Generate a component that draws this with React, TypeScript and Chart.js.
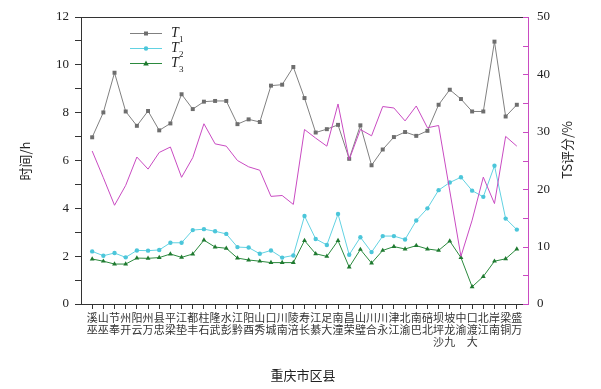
import { useEffect, useRef } from 'react';
import { Chart, registerables } from 'chart.js';
Chart.register(...registerables);

const districts = ['巫溪','巫山','奉节','开州','云阳','万州','忠县','梁平','垫江','丰都','石柱','武隆','彭水','黔江','酉阳','秀山','城口','南川','涪陵','长寿','綦江','大足','潼南','荣昌','璧山','合川','永川','江津','渝北','巴南','北碚','沙坪坝','九龙坡','渝中','大渡口','江北','南岸','铜梁','万盛'];

const t1 = [6.97,8.01,9.67,8.05,7.45,8.07,7.26,7.55,8.77,8.15,8.46,8.49,8.49,7.52,7.72,7.61,9.13,9.17,9.91,8.61,7.17,7.31,7.49,6.07,7.47,5.80,6.46,6.98,7.19,7.03,7.24,8.33,8.96,8.57,8.05,8.05,10.97,7.84,8.33];
const t2 = [2.20,2.02,2.13,1.95,2.24,2.23,2.26,2.56,2.56,3.09,3.13,3.04,2.93,2.38,2.36,2.10,2.24,1.94,2.03,3.68,2.72,2.47,3.76,2.06,2.79,2.17,2.84,2.84,2.70,3.49,4.00,4.76,5.08,5.30,4.74,4.48,5.78,3.57,3.11];
const t3 = [1.88,1.79,1.67,1.67,1.92,1.91,1.94,2.09,1.95,2.09,2.67,2.38,2.33,1.92,1.84,1.79,1.73,1.73,1.73,2.65,2.10,1.99,2.65,1.54,2.28,1.71,2.24,2.40,2.30,2.44,2.30,2.24,2.63,1.94,0.72,1.15,1.79,1.89,2.30];
const ts = [26.65,22.0,17.2,20.67,25.6,23.5,26.4,27.35,22.07,25.5,31.4,27.9,27.5,25.0,23.9,23.3,18.75,18.9,17.35,30.4,28.9,27.5,34.85,25.15,30.4,29.3,34.4,34.15,31.9,34.5,30.7,31.1,19.7,8.3,14.6,22.1,17.5,29.2,27.5];

const leftTicks = [0,2,4,6,8,10,12];
const rightTicks = [0,10,20,30,40,50];
const legendNames = ['1','2','3'];

const GRAY = '#808080';
const CYAN = '#62d2e2';
const GREEN = '#2b8a3e';
const MAGENTA = '#c94bc2';
const AXIS = '#333333';
const SERIF = '"Liberation Serif", "DejaVu Serif", serif';
const CJK = '"Noto Sans CJK SC", sans-serif';

const pad = (arr: number[]) => [null, ...arr, null];
const labels = ['', ...districts.map((d) => d.split('').reverse()), ''];

function drawMarker(ctx: CanvasRenderingContext2D, kind: string, x: number, y: number, color: string) {
  ctx.fillStyle = color;
  ctx.beginPath();
  if (kind === 'rect') {
    ctx.rect(x - 2, y - 2, 4, 4);
  } else if (kind === 'circle') {
    ctx.arc(x, y, 2.2, 0, Math.PI * 2);
  } else {
    ctx.moveTo(x, y - 3);
    ctx.lineTo(x + 2.8, y + 2);
    ctx.lineTo(x - 2.8, y + 2);
    ctx.closePath();
  }
  ctx.fill();
}

const decor = {
  id: 'decor',
  afterDraw(chart: any) {
    const { ctx, chartArea: a, scales } = chart;
    ctx.save();
    ctx.lineWidth = 1;
    // top frame
    ctx.strokeStyle = AXIS;
    ctx.beginPath();
    ctx.moveTo(a.left, Math.round(a.top) + 0.5);
    ctx.lineTo(a.right, Math.round(a.top) + 0.5);
    ctx.stroke();
    // right inward ticks
    const y1 = scales.y1;
    ctx.strokeStyle = MAGENTA;
    for (let v = 0; v <= 50; v += 5) {
      const y = Math.round(y1.getPixelForValue(v)) + 0.5;
      ctx.beginPath();
      ctx.moveTo(a.right - 5, y);
      ctx.lineTo(a.right, y);
      ctx.stroke();
    }
    // legend
    const items = [
      { c: GRAY, m: 'rect', mc: '#6e6e6e' },
      { c: CYAN, m: 'circle', mc: '#4cc6da' },
      { c: GREEN, m: 'triangle', mc: '#1f7a30' },
    ];
    items.forEach((it, i) => {
      const y = 33 + i * 15;
      ctx.strokeStyle = it.c;
      ctx.lineWidth = 1;
      ctx.beginPath();
      ctx.moveTo(130, y + 0.5);
      ctx.lineTo(162, y + 0.5);
      ctx.stroke();
      drawMarker(ctx, it.m, 146, y + 0.5, it.mc);
      ctx.fillStyle = '#222';
      ctx.textAlign = 'left';
      ctx.textBaseline = 'alphabetic';
      ctx.font = `italic 14px ${SERIF}`;
      ctx.fillText('T', 171, y + 4);
      ctx.font = `9px ${SERIF}`;
      ctx.fillText(legendNames[i], 179, y + 9);
    });
    // axis titles
    ctx.fillStyle = '#222';
    ctx.font = `13px ${CJK}`;
    ctx.textAlign = 'center';
    ctx.textBaseline = 'middle';
    ctx.fillText('重庆市区县', 303, 375);
    ctx.save();
    ctx.translate(25, 161);
    ctx.rotate(-Math.PI / 2);
    ctx.fillText('时间/h', 0, 0);
    ctx.restore();
    ctx.save();
    ctx.translate(567, 150);
    ctx.rotate(-Math.PI / 2);
    ctx.fillText('TS评分/%', 0, 0);
    ctx.restore();
    ctx.restore();
  },
};

export default function App() {
  const ref = useRef<HTMLCanvasElement>(null);
  useEffect(() => {
    document.body.style.margin = '0';
    const chart = new Chart(ref.current!, {
      type: 'line',
      data: {
        labels,
        datasets: [
          { label: 'TS', data: pad(ts), yAxisID: 'y1', borderColor: MAGENTA, borderWidth: 1, pointRadius: 0, tension: 0 },
          { label: 'T1', data: pad(t1), yAxisID: 'y', borderColor: GRAY, borderWidth: 1, pointStyle: 'rect', pointRadius: 2.8, pointBackgroundColor: '#6e6e6e', pointBorderWidth: 0, tension: 0 },
          { label: 'T2', data: pad(t2), yAxisID: 'y', borderColor: CYAN, borderWidth: 1, pointStyle: 'circle', pointRadius: 2.2, pointBackgroundColor: '#4cc6da', pointBorderWidth: 0, tension: 0 },
          { label: 'T3', data: pad(t3), yAxisID: 'y', borderColor: GREEN, borderWidth: 1, pointStyle: 'triangle', pointRadius: 2.8, pointBackgroundColor: '#1f7a30', pointBorderWidth: 0, tension: 0 },
        ] as any,
      },
      options: {
        animation: false,
        responsive: false,
        devicePixelRatio: 1,
        layout: { padding: { top: 17, left: 0, right: 0, bottom: 0 } },
        plugins: { legend: { display: false }, tooltip: { enabled: false } },
        scales: {
          x: {
            type: 'category',
            offset: false,
            afterFit: (s: any) => { s.height = 85; },
            border: { color: AXIS, width: 1 },
            grid: {
              drawOnChartArea: false,
              tickLength: 5,
              tickColor: (c: any) => (c.index === 0 || c.index === labels.length - 1 ? 'rgba(0,0,0,0)' : AXIS),
            },
            ticks: {
              autoSkip: false,
              maxRotation: 0,
              minRotation: 0,
              padding: 3,
              color: '#333',
              font: { family: CJK, size: 11, lineHeight: 1.1 },
            },
          },
          y: {
            position: 'left',
            min: 0,
            max: 12,
            afterFit: (s: any) => { s.width = 81; },
            border: { color: AXIS, width: 1 },
            grid: { drawOnChartArea: false, tickLength: 6, tickColor: AXIS },
            ticks: {
              stepSize: 1,
              padding: 6,
              color: '#222',
              font: { family: SERIF, size: 13 },
              callback: (v: any) => (leftTicks.includes(Number(v)) ? String(v) : ''),
            },
          },
          y1: {
            position: 'right',
            min: 0,
            max: 50,
            afterFit: (s: any) => { s.width = 73; },
            border: { color: MAGENTA, width: 1 },
            grid: { drawOnChartArea: false, drawTicks: false },
            ticks: {
              stepSize: 10,
              padding: 9,
              color: '#222',
              font: { family: SERIF, size: 13 },
              callback: (v: any) => (rightTicks.includes(Number(v)) ? String(v) : ''),
            },
          },
        },
      } as any,
      plugins: [decor],
    });
    return () => chart.destroy();
  }, []);
  return (
    <div style={{ position: 'absolute', left: 0, top: 0, width: 601, height: 389 }}>
      <canvas ref={ref} width={601} height={389} style={{ display: 'block', width: 601, height: 389 }} />
    </div>
  );
}
